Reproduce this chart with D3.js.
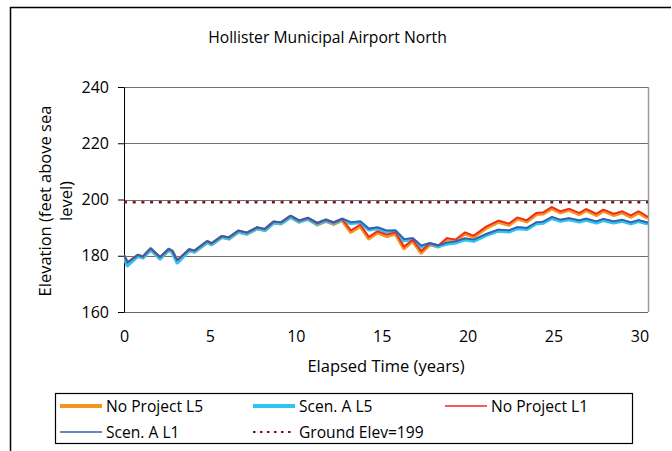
<!DOCTYPE html>
<html>
<head>
<meta charset="utf-8">
<script src="https://cdn.jsdelivr.net/npm/d3@7"></script>
<style>
	body { margin: 0; background: #fff; }
	svg text { font-family: "Open Sans", "DejaVu Sans", sans-serif; fill: #000; }
</style>
</head>
<body>
<svg id="elev-chart"></svg>
<script>
var years = [0, 0.2, 0.8, 1.1, 1.55, 2.1, 2.6, 2.8, 3.1, 3.8, 4.1, 4.85, 5.1, 5.7, 6.1, 6.65, 7.15, 7.75, 8.2, 8.7,
	9.15, 9.7, 10.2, 10.7, 11.25, 11.75, 12.2, 12.7, 13.2, 13.75, 14.25, 14.75, 15.3, 15.8, 16.3, 16.8, 17.3, 17.8, 18.3, 18.8,
	19.3, 19.85, 20.35, 21.1, 21.8, 22.4, 22.9, 23.45, 24.0, 24.4, 24.9, 25.4, 25.9, 26.5, 26.9, 27.5, 27.9, 28.5, 29.0, 29.5,
	29.95, 30.5];

var noProjectL5 = [180.0, 177.2, 180.0, 179.4, 182.3, 179.1, 182.1, 181.5, 178.0, 182.0, 181.5, 184.9, 184.1, 186.7, 186.1,
	188.6, 187.8, 189.8, 189.1, 191.8, 191.5, 193.9, 192.1, 193.1, 191.1, 192.4, 191.3, 192.7, 188.5, 190.6, 186.2, 188.3,
	187.0, 187.9, 182.7, 185.3, 181.1, 184.1, 183.3, 185.9, 185.3, 187.9, 186.7, 190.0, 192.1, 191.0, 193.2, 192.2, 194.8,
	195.0, 196.9, 195.4, 196.3, 194.8, 196.2, 194.5, 196.0, 194.5, 195.4, 193.9, 195.4, 193.4];

var scenAL5 = [179.9, 176.6, 180.0, 179.4, 182.3, 179.1, 182.1, 181.5, 177.6, 182.0, 181.5, 184.9, 184.1, 186.7, 186.2,
	188.6, 187.9, 189.8, 189.2, 191.8, 191.6, 193.9, 192.2, 193.2, 191.4, 192.6, 191.6, 192.9, 191.6, 191.9, 189.3, 189.8,
	188.6, 188.7, 185.5, 185.9, 183.2, 184.2, 183.4, 184.3, 184.7, 185.8, 185.3, 187.4, 188.9, 188.6, 189.8, 189.5, 191.5,
	191.7, 193.4, 192.4, 193.0, 192.2, 192.8, 191.8, 192.7, 191.8, 192.4, 191.5, 192.3, 191.4];

var noProjectL1 = [180.3, 177.6, 180.3, 179.7, 182.6, 179.5, 182.4, 181.8, 178.4, 182.3, 181.8, 185.2, 184.4, 187.0, 186.5,
	188.9, 188.2, 190.1, 189.5, 192.1, 191.9, 194.2, 192.5, 193.4, 191.5, 192.7, 191.7, 193.0, 189.0, 191.0, 186.7, 188.7,
	187.5, 188.3, 183.2, 185.7, 181.6, 184.4, 183.6, 186.3, 185.7, 188.3, 187.1, 190.4, 192.5, 191.4, 193.6, 192.6, 195.2,
	195.4, 197.3, 195.8, 196.7, 195.2, 196.6, 194.9, 196.4, 194.9, 195.8, 194.3, 195.8, 193.8];

var scenAL1 = [180.3, 177.6, 180.3, 179.7, 182.6, 179.5, 182.4, 181.8, 178.4, 182.3, 181.8, 185.2, 184.4, 187.0, 186.5,
	188.9, 188.2, 190.1, 189.5, 192.1, 191.9, 194.2, 192.5, 193.5, 191.7, 192.9, 191.9, 193.2, 191.9, 192.2, 189.6, 190.1,
	188.9, 189.0, 185.9, 186.3, 183.6, 184.5, 183.7, 184.7, 185.1, 186.2, 185.7, 187.8, 189.3, 189.0, 190.2, 189.9, 191.9,
	192.1, 193.8, 192.8, 193.4, 192.6, 193.2, 192.2, 193.1, 192.2, 192.8, 191.9, 192.7, 191.8];

var groundYears = [0, 30.5];
var groundElev = [199, 199];

var yTicks = [160, 180, 200, 220, 240];
var xTicks = [0, 5, 10, 15, 20, 25, 30];

var W = 672, H = 451;
var margin = {top: 87, right: 24, bottom: 139, left: 124},
		width = W - margin.left - margin.right,
		height = H - margin.top - margin.bottom;

var svg = d3.select("svg#elev-chart")
		.attr("width", W)
		.attr("height", H);

//Outer frame (top and left edges only visible)
svg.append("path")
		.attr("d", "M10.5,451V7.5H671")
		.attr("fill", "none")
		.attr("stroke", "#000")
		.attr("stroke-width", 1.5);

var g = svg.append("g")
		.attr("transform", "translate(" + margin.left + "," + margin.top + ")");

var x = d3.scaleLinear().domain([0, 30.5]).range([0, width]);
var y = d3.scaleLinear().domain([160, 240]).range([height, 0]);

g.append("clipPath").attr("id", "plot-clip")
		.append("rect").attr("width", width).attr("height", height);

//Grid lines
g.selectAll(".grid")
		.data(yTicks.slice(1))
		.enter().append("line")
		.attr("x1", 0)
		.attr("x2", width)
		.attr("y1", function (d) { return Math.round(y(d)) + 0.5; })
		.attr("y2", function (d) { return Math.round(y(d)) + 0.5; })
		.attr("stroke", "#6e6e6e")
		.attr("stroke-width", 1);

//Right border + bottom
g.append("line")
		.attr("x1", width + 0.5).attr("x2", width + 0.5)
		.attr("y1", 0).attr("y2", height)
		.attr("stroke", "#999").attr("stroke-width", 1.5);
g.append("line")
		.attr("x1", 0).attr("x2", width)
		.attr("y1", height + 0.5).attr("y2", height + 0.5)
		.attr("stroke", "#666").attr("stroke-width", 1);

//Y axis
var yAxis = d3.axisLeft(y).tickValues(yTicks).tickSizeInner(6).tickSizeOuter(0).tickPadding(9);
var gy = g.append("g").attr("class", "y axis").call(yAxis);
gy.select(".domain").attr("stroke", "#000");
gy.selectAll("text").style("font-size", "16px").attr("fill", "#000");

//X axis (labels only)
var xAxis = d3.axisBottom(x).tickValues(xTicks).tickSizeInner(0).tickSizeOuter(0).tickPadding(19);
var gx = g.append("g").attr("class", "x axis")
		.attr("transform", "translate(0," + height + ")")
		.call(xAxis);
gx.select(".domain").remove();
gx.selectAll("text").style("font-size", "16px").attr("fill", "#000");

//Series
var series = [
	{name: "No Project L5", values: noProjectL5, color: "#f7941d", width: 4},
	{name: "Scen. A L5", values: scenAL5, color: "#2ec4f2", width: 4},
	{name: "No Project L1", values: noProjectL1, color: "#ee2a24", width: 1.8},
	{name: "Scen. A L1", values: scenAL1, color: "#3d5ba9", width: 1.8}
];

var line = d3.line()
		.x(function (d) { return x(d[0]); })
		.y(function (d) { return y(d[1]); });

var plot = g.append("g").attr("clip-path", "url(#plot-clip)");

plot.append("path")
		.datum(d3.zip(groundYears, groundElev))
		.attr("d", line)
		.attr("fill", "none")
		.attr("stroke", "#7d1416")
		.attr("stroke-width", 2.5)
		.attr("stroke-dasharray", "3,5.7");

plot.selectAll(".series")
		.data(series)
		.enter().append("path")
		.attr("class", "series")
		.attr("d", function (d) { return line(d3.zip(years, d.values)); })
		.attr("fill", "none")
		.attr("stroke", function (d) { return d.color; })
		.attr("stroke-width", function (d) { return d.width; })
		.attr("stroke-linejoin", "round");

//Titles
svg.append("text")
		.attr("x", 327.5).attr("y", 43)
		.attr("text-anchor", "middle")
		.style("font-size", "15.7px")
		.text("Hollister Municipal Airport North");

svg.append("text")
		.attr("x", margin.left + width / 2).attr("y", 372)
		.attr("text-anchor", "middle")
		.style("font-size", "16.5px")
		.text("Elapsed Time (years)");

var yTitle = svg.append("text")
		.attr("transform", "translate(0,201)rotate(-90)")
		.attr("text-anchor", "middle")
		.style("font-size", "16.5px");
yTitle.append("tspan").attr("x", 0).attr("y", 51).text("Elevation (feet above sea");
yTitle.append("tspan").attr("x", 0).attr("y", 72).text("level)");

//Legend
var legendItems = [
	{name: "No Project L5", color: "#f7941d", width: 4, x: 60, row: 0},
	{name: "Scen. A L5", color: "#2ec4f2", width: 4, x: 253, row: 0},
	{name: "No Project L1", color: "#ee2a24", width: 1.5, x: 445, row: 0},
	{name: "Scen. A L1", color: "#3d5ba9", width: 1.5, x: 60, row: 1},
	{name: "Ground Elev=199", color: "#7d1416", width: 2, x: 253, row: 1, dash: "2.5,4.5"}
];

svg.append("rect")
		.attr("x", 55.5).attr("y", 393.5)
		.attr("width", 577).attr("height", 50)
		.attr("fill", "#fff")
		.attr("stroke", "#000")
		.attr("stroke-width", 1.2);

var legend = svg.selectAll(".legend-item")
		.data(legendItems)
		.enter().append("g")
		.attr("class", "legend-item")
		.attr("transform", function (d) { return "translate(" + d.x + "," + (406 + d.row * 26) + ")"; });

legend.append("line")
		.attr("x1", 0).attr("x2", 42)
		.attr("y1", 0).attr("y2", 0)
		.attr("stroke", function (d) { return d.color; })
		.attr("stroke-width", function (d) { return d.width; })
		.attr("stroke-dasharray", function (d) { return d.dash || null; });

legend.append("text")
		.attr("x", 46).attr("y", 5.5)
		.style("font-size", "15.6px")
		.text(function (d) { return d.name; });
</script>
</body>
</html>
